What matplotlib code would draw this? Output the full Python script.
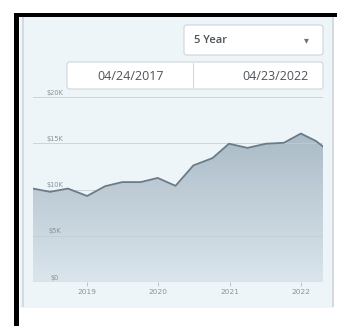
import numpy as np
import matplotlib.pyplot as plt
from matplotlib.colors import LinearSegmentedColormap
from matplotlib.patches import Rectangle, FancyBboxPatch, Polygon

# data (value in $K, time in fractional years)
years = [2018.24, 2018.48, 2018.73, 2019.0, 2019.25, 2019.49, 2019.75, 2019.99,
         2020.24, 2020.49, 2020.76, 2020.99, 2021.25, 2021.51, 2021.76, 2022.0,
         2022.21, 2022.31]
values = [10.1, 9.75, 10.1, 9.3, 10.35, 10.8, 10.8, 11.25,
          10.4, 12.6, 13.4, 14.95, 14.5, 14.95, 15.05, 16.05,
          15.25, 14.65]
yticks = [0, 5, 10, 15, 20]
ytick_labels = ["$0", "$5K", "$10K", "$15K", "$20K"]
xticks = [2019, 2020, 2021, 2022]
start_date = "04/24/2017"
end_date = "04/23/2022"
period = "5 Year"

W, H = 337, 326
fig = plt.figure(figsize=(W / 100, H / 100), dpi=100)
fig.patch.set_facecolor("white")


def px(x, y, w, h):
    # pixel box (top-left origin) -> figure fraction
    return (x / W, 1 - (y + h) / H, w / W, h / H)


def frect(x, y, w, h, **kw):
    l, b, ww, hh = px(x, y, w, h)
    fig.patches.append(Rectangle((l, b), ww, hh, transform=fig.transFigure, **kw))


def fbox(x, y, w, h, **kw):
    l, b, ww, hh = px(x, y, w, h)
    fig.patches.append(FancyBboxPatch((l, b), ww, hh, boxstyle="round,pad=0,rounding_size=0.008",
                                      transform=fig.transFigure, **kw))


# panel
frect(20, 15, 313, 293, facecolor="#eef5f9", edgecolor="none")
frect(22, 17, 2, 290, facecolor="#d4dadf", edgecolor="none")
frect(332, 17, 1.5, 290, facecolor="#d4dadf", edgecolor="none")
# black frame of the screenshot
frect(14, 13, W - 14, 4, facecolor="black", edgecolor="none")
frect(14, 13, 5, H - 13, facecolor="black", edgecolor="none")

# dropdown
fbox(184, 25, 139, 30, facecolor="white", edgecolor="#cfd6dc", linewidth=0.8)
fig.text(194 / W, 1 - 40.5 / H, period, fontsize=8, color="#4d5358", va="center",
         family="Open Sans", weight="semibold")
fig.text(306 / W, 1 - 40 / H, "\u25be", fontsize=7, color="#6a7076", va="center", ha="center")

# date range
fbox(67, 62, 256, 27, facecolor="white", edgecolor="#cfd6dc", linewidth=0.8)
frect(193, 63, 0.8, 25, facecolor="#cfd6dc", edgecolor="none")
fig.text(131 / W, 1 - 76 / H, start_date, fontsize=9, color="#4d5358", va="center", ha="center",
         family="Open Sans")
fig.text(309 / W, 1 - 76 / H, end_date, fontsize=9, color="#4d5358", va="center", ha="right",
         family="Open Sans")

# chart
ax = fig.add_axes(px(33, 97, 290, 185))
ax.set_zorder(5)
ax.set_facecolor("none")
for s in ax.spines.values():
    s.set_visible(False)

for v, lab in zip(yticks, ytick_labels):
    ax.axhline(v, color="#b8c2c9" if v == 0 else "#c3ccd3", lw=0.7, alpha=0.8, zorder=2.5)
    ax.text(2018.55, v + 0.15, lab, fontsize=4.8, color="#8a9298", va="bottom", ha="center", zorder=4)

# gradient fill under the line
grad = np.linspace(0, 1, 256).reshape(-1, 1)
img = ax.imshow(grad[::-1], cmap=LinearSegmentedColormap.from_list("g", ["#a8b9c5", "#dae5ec"]),
                aspect="auto", extent=[years[0], years[-1], 0, 17], origin="lower", zorder=2)
poly = Polygon(list(zip(years, values)) + [(years[-1], 0), (years[0], 0)], closed=True,
               transform=ax.transData, facecolor="none", edgecolor="none")
ax.add_patch(poly)
img.set_clip_path(poly)
ax.plot(years, values, color="#6b7c88", lw=1.3, zorder=3)
ax.axhline(0, color="#b0bcc5", lw=0.8, zorder=3)
ax.set_xlim(years[0], years[-1])
ax.set_ylim(0, 20)

ax.set_xticks(xticks)
ax.set_xticklabels([str(x) for x in xticks])
ax.set_yticks([])
ax.tick_params(axis="x", length=3, width=0.6, color="#b0bcc5", labelsize=5.3, labelcolor="#8a9298", pad=2)

fig.savefig("out.png", dpi=100)
